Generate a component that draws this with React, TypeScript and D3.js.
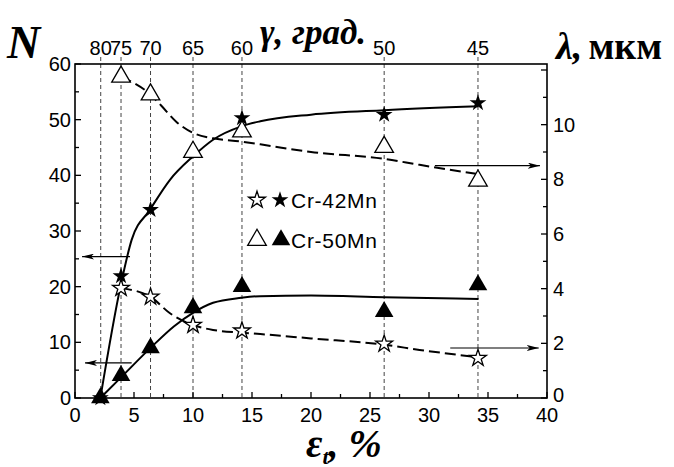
import React from 'react';
import * as d3 from 'd3';

// strain, %  (x axis) and matching gamma angles on the top axis
const gammaTicks = [80, 75, 70, 65, 60, 50, 45];
const gammaEps = [2.18, 3.9, 6.4, 10.0, 14.15, 26.2, 34.15];

// measured points
const nCr42Eps = [2.15, 3.9, 6.4, 14.15, 26.2, 34.15];
const nCr42 = [0, 21.9, 33.8, 50.3, 50.9, 53];
const nCr50Eps = [2.15, 3.9, 6.4, 10.0, 14.15, 26.2, 34.15];
const nCr50 = [0, 4, 9, 16.2, 20, 15.5, 20.3];
const lamCr42Eps = [3.9, 6.4, 10.0, 14.15, 26.2, 34.15];
const lamCr42 = [4.02, 3.7, 2.67, 2.46, 1.98, 1.46];
const lamCr50Eps = [3.9, 6.4, 10.0, 14.15, 26.2, 34.15];
const lamCr50 = [11.75, 11.1, 9.0, 9.75, 9.18, 7.95];

// fitted curves
const fitNCr42Eps = [2.15, 3.9, 4.8, 6.35, 8.05, 10.0, 11.7, 14.1, 15.7, 20, 26.2, 34.2];
const fitNCr42 = [0, 20.5, 28.4, 33.8, 39.2, 43.4, 46.4, 48.8, 49.7, 50.9, 51.7, 52.4];
const fitNCr50Eps = [2.15, 3.9, 6.4, 8.4, 10.0, 11.7, 14.1, 15.7, 20, 26.2, 34.2];
const fitNCr50 = [0, 3.7, 9, 12.9, 15.3, 17.1, 18.0, 18.3, 18.4, 18.1, 17.8];
const fitLamCr50Eps = [3.9, 6.4, 7.3, 8.6, 10.0, 11.7, 14.1, 15.7, 20, 26.2, 29.2, 34.0];
const fitLamCr50 = [11.75, 11.1, 10.7, 10.1, 9.7, 9.5, 9.38, 9.28, 9.0, 8.75, 8.53, 8.2];
const fitLamCr42Eps = [3.9, 6.4, 8.05, 10.0, 11.7, 14.1, 15.7, 20, 26.2, 29.2, 34.0];
const fitLamCr42 = [4.02, 3.7, 3.1, 2.67, 2.49, 2.39, 2.34, 2.18, 1.95, 1.76, 1.5];

// arrows pointing to the relevant axis
const leftArrows = [
  { n: 25.4, from: 4.66, to: 0.6 },
  { n: 6.3, from: 4.8, to: 0.85 },
];
const rightArrows = [
  { lam: 8.5, from: 30.5, to: 39.4 },
  { lam: 1.83, from: 31.8, to: 39.3 },
];

const xTicks = [0, 5, 10, 15, 20, 25, 30, 35, 40];
const nTicks = [0, 10, 20, 30, 40, 50, 60];
const lamTicks = [0, 2, 4, 6, 8, 10];

const W = 674;
const H = 467;
const left = 75, right = 547, top = 64, bottom = 398;

const sans = 'Liberation Sans, Arial, sans-serif';
const serif = 'Liberation Serif, Times New Roman, serif';

export default function App() {
  const x = d3.scaleLinear().domain([0, 40]).range([left, right]);
  const yN = d3.scaleLinear().domain([0, 60]).range([bottom, top]);
  const yL = d3.scaleLinear().domain([0, 12]).range([bottom, 70]);

  const lineN = d3.line<[number, number]>()
    .x(d => x(d[0])).y(d => yN(d[1])).curve(d3.curveMonotoneX);
  const lineL = d3.line<[number, number]>()
    .x(d => x(d[0])).y(d => yL(d[1])).curve(d3.curveMonotoneX);

  const zip = (a: number[], b: number[]) => a.map((v, i) => [v, b[i]] as [number, number]);

  const star = d3.symbol().type(d3.symbolStar).size(88)()!;
  const tri = d3.symbol().type(d3.symbolTriangle).size(150)()!;

  const minorX = d3.range(0, 40.01, 2.5);
  const minorN = d3.range(0, 60.01, 5);
  const minorL = d3.range(0, 12.01, 1);

  return (
    <svg width={W} height={H} style={{ position: 'absolute', left: 0, top: 0, background: '#fff' }}>
      <defs>
        <marker id="ah" viewBox="0 0 12 6" refX="12" refY="3" markerWidth="12" markerHeight="6"
          markerUnits="userSpaceOnUse" orient="auto">
          <path d="M0,0 L12,3 L0,6 L3,3 Z" fill="#000" />
        </marker>
      </defs>

      {/* gamma dashed guides */}
      {gammaEps.map((e, i) => (
        <g key={'g' + i}>
          <line x1={x(e)} x2={x(e)} y1={57} y2={bottom} stroke="#444" strokeWidth={1} strokeDasharray="4,3" />
          <text x={x(e)} y={55} fontFamily={sans} fontSize={20} textAnchor="middle">{gammaTicks[i]}</text>
        </g>
      ))}

      {/* frame */}
      <rect x={left} y={top} width={right - left} height={bottom - top} fill="none" stroke="#000" strokeWidth={1.6} />

      {/* bottom ticks */}
      {minorX.map(t => (
        <line key={'bx' + t} x1={x(t)} x2={x(t)} y1={bottom} y2={bottom - (t % 5 === 0 ? 6 : 4)} stroke="#000" strokeWidth={1.3} />
      ))}
      {xTicks.map(t => (
        <text key={'xl' + t} x={x(t)} y={422} fontFamily={sans} fontSize={20} textAnchor="middle">{t}</text>
      ))}

      {/* left ticks */}
      {minorN.map(t => (
        <line key={'ln' + t} x1={left} x2={left + (t % 10 === 0 ? 6 : 4)} y1={yN(t)} y2={yN(t)} stroke="#000" strokeWidth={1.3} />
      ))}
      {nTicks.map(t => (
        <text key={'nl' + t} x={71} y={yN(t) + 7} fontFamily={sans} fontSize={20} textAnchor="end">{t}</text>
      ))}

      {/* right ticks */}
      {minorL.map(t => (
        <line key={'rl' + t} x1={right} x2={right - (t % 2 === 0 ? 6 : 4)} y1={yL(t)} y2={yL(t)} stroke="#000" strokeWidth={1.3} />
      ))}
      {lamTicks.map(t => (
        <text key={'ll' + t} x={553} y={yL(t) + (t === 0 ? 4 : 7)} fontFamily={sans} fontSize={20} textAnchor="start">{t}</text>
      ))}

      {/* fitted curves */}
      <path d={lineN(zip(fitNCr42Eps, fitNCr42))!} fill="none" stroke="#000" strokeWidth={2} />
      <path d={lineN(zip(fitNCr50Eps, fitNCr50))!} fill="none" stroke="#000" strokeWidth={2} />
      <path d={lineL(zip(fitLamCr50Eps, fitLamCr50))!} fill="none" stroke="#000" strokeWidth={2} strokeDasharray="11,5" />
      <path d={lineL(zip(fitLamCr42Eps, fitLamCr42))!} fill="none" stroke="#000" strokeWidth={2} strokeDasharray="11,5" />

      {/* arrows */}
      {leftArrows.map((a, i) => (
        <line key={'la' + i} x1={x(a.from)} x2={x(a.to)} y1={yN(a.n)} y2={yN(a.n)} stroke="#000" strokeWidth={1.2} markerEnd="url(#ah)" />
      ))}
      {rightArrows.map((a, i) => (
        <line key={'ra' + i} x1={x(a.from)} x2={x(a.to)} y1={yL(a.lam)} y2={yL(a.lam)} stroke="#000" strokeWidth={1.2} markerEnd="url(#ah)" />
      ))}

      {/* markers */}
      {zip(lamCr50Eps, lamCr50).map((d, i) => (
        <path key={'ot' + i} d={tri} transform={`translate(${x(d[0])},${yL(d[1])})`} fill="#fff" stroke="#000" strokeWidth={1.3} />
      ))}
      {zip(lamCr42Eps, lamCr42).map((d, i) => (
        <path key={'os' + i} d={star} transform={`translate(${x(d[0])},${yL(d[1])})`} fill="#fff" stroke="#000" strokeWidth={1.3} />
      ))}
      {zip(nCr50Eps, nCr50).map((d, i) => (
        <path key={'ft' + i} d={tri} transform={`translate(${x(d[0])},${yN(d[1])})`} fill="#000" />
      ))}
      {zip(nCr42Eps, nCr42).map((d, i) => (
        <path key={'fs' + i} d={star} transform={`translate(${x(d[0])},${yN(d[1])})`} fill="#000" />
      ))}

      {/* legend */}
      <path d={star} transform="translate(257,200)" fill="#fff" stroke="#000" strokeWidth={1.3} />
      <path d={star} transform="translate(280,200)" fill="#000" />
      <text x={291} y={208} fontFamily={sans} fontSize={21} textLength={86}>Cr-42Mn</text>
      <path d={tri} transform="translate(257,240)" fill="#fff" stroke="#000" strokeWidth={1.3} />
      <path d={tri} transform="translate(281,240)" fill="#000" />
      <text x={291} y={248} fontFamily={sans} fontSize={21} textLength={86}>Cr-50Mn</text>

      {/* axis titles */}
      <text x={7} y={58} fontFamily={serif} fontSize={46} fontWeight="bold" fontStyle="italic">N</text>
      <text x={260} y={44} fontFamily={serif} fontSize={35} fontWeight="bold" fontStyle="italic">γ, град.</text>
      <text x={556} y={59} fontFamily={serif} fontSize={38} fontWeight="bold">
        <tspan fontStyle="italic">λ,</tspan>
        <tspan dx={6} fontSize={38}>мкм</tspan>
      </text>
      <text x={306} y={457} fontFamily={serif} fontSize={40} fontWeight="bold" fontStyle="italic">
        ε<tspan fontSize={22} dy={7}>t</tspan><tspan dy={-7}>, %</tspan>
      </text>
    </svg>
  );
}
